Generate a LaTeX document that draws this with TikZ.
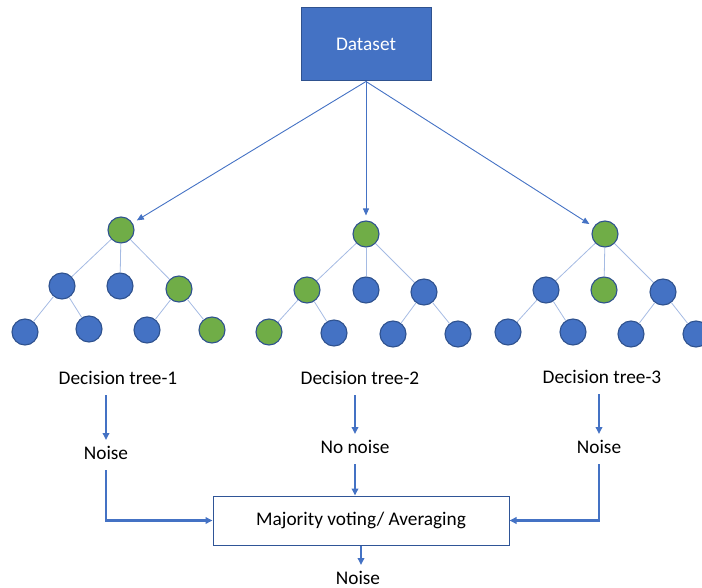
\documentclass[tikz,border=0pt]{standalone}
\usepackage{fontspec}
\setmainfont{Carlito}
\usetikzlibrary{arrows.meta}
\definecolor{obl}{HTML}{4472C4}
\definecolor{ogr}{HTML}{70AD47}
\definecolor{odk}{HTML}{2F528F}
\definecolor{oedge}{HTML}{A5BBE3}
\definecolor{boxln}{HTML}{2F5597}

\begin{document}
\begin{tikzpicture}[x=1pt,y=-1pt,
  bnode/.style={circle,draw=odk,line width=1.1pt,fill=obl,minimum size=26pt,inner sep=0pt},
  gnode/.style={bnode,fill=ogr},
  tedge/.style={draw=oedge,line width=0.8pt},
  fanarrow/.style={draw=obl,line width=0.9pt,-{Triangle[length=7pt,width=6pt]},shorten >=5pt},
  flow/.style={draw=obl,line width=2.2pt,-{Triangle[length=7pt,width=6.5pt]}},
  lbl/.style={font=\fontsize{19.3}{22}\selectfont,inner sep=0pt,outer sep=7pt,
              text height=12pt,text depth=4pt},
]
\useasboundingbox (0,0) rectangle (702,588);

% data source
\node[draw=odk,fill=obl,line width=1pt,minimum width=130pt,minimum height=73pt,
      text=white,font=\fontsize{19.3}{22}\selectfont] (ds) at (366,44.5) {Dataset};

% tree 1
\node[gnode] (r1) at (121,230) {};
\node[bnode] (a1) at (62,286) {};
\node[bnode] (b1) at (120,286) {};
\node[gnode] (c1) at (179,289) {};
\node[bnode] (d1) at (25,332) {};
\node[bnode] (e1) at (89,329) {};
\node[bnode] (f1) at (147,330) {};
\node[gnode] (h1) at (212,330) {};

% tree 2
\node[gnode] (r2) at (366,234) {};
\node[gnode] (a2) at (307,290) {};
\node[bnode] (b2) at (366,290) {};
\node[bnode] (c2) at (424,292) {};
\node[gnode] (d2) at (269,332) {};
\node[bnode] (e2) at (334,333) {};
\node[bnode] (f2) at (393,334) {};
\node[bnode] (h2) at (458,334) {};

% tree 3
\node[gnode] (r3) at (605,234) {};
\node[bnode] (a3) at (546,290) {};
\node[gnode] (b3) at (604,290) {};
\node[bnode] (c3) at (663,292) {};
\node[bnode] (d3) at (508,332) {};
\node[bnode] (e3) at (573,332) {};
\node[bnode] (f3) at (631,334) {};
\node[bnode] (h3) at (696,334) {};

% tree edges
\foreach \t in {1,2,3}{
  \draw[tedge] (r\t) -- (a\t);
  \draw[tedge] (r\t) -- (b\t);
  \draw[tedge] (r\t) -- (c\t);
  \draw[tedge] (a\t) -- (d\t);
  \draw[tedge] (a\t) -- (e\t);
  \draw[tedge] (c\t) -- (f\t);
  \draw[tedge] (c\t) -- (h\t);
}

% sampling arrows
\draw[fanarrow] (ds.south) -- (r1);
\draw[fanarrow] (ds.south) -- (r2);
\draw[fanarrow] (ds.south) -- (r3);

% labels
\node[lbl] (dt1) at (118,380) {Decision tree-1};
\node[lbl] (dt2) at (360,380) {Decision tree-2};
\node[lbl] (dt3) at (602,379) {Decision tree-3};
\node[lbl] (n1) at (106,455) {Noise};
\node[lbl] (nn) at (355,449) {No noise};
\node[lbl] (n3) at (599,449) {Noise};
\node[draw=boxln,line width=1pt,minimum width=296pt,minimum height=49pt,
      font=\fontsize{19.3}{22}\selectfont] (box) at (361,520.5) {Majority voting/ Averaging};
\node[lbl] (out) at (358,580) {Noise};

% aggregation flow
\draw[flow] (dt1.south -| n1) -- (n1.north);
\draw[flow] (n1.south) |- (box.west);
\draw[flow] (dt2.south -| nn) -- (nn.north);
\draw[flow] (nn.south) -- (nn.south |- box.north);
\draw[flow] (dt3.south -| n3) -- (n3.north);
\draw[flow] (n3.south) |- (box.east);
\draw[flow] (box.south) -- (box.south |- out.north);
\end{tikzpicture}
\end{document}
